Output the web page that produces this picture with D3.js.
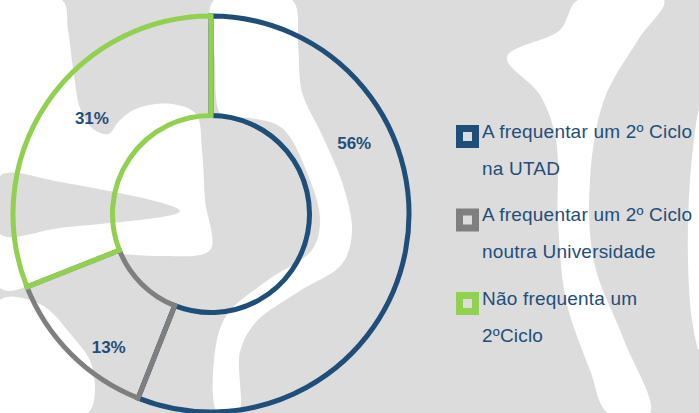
<!DOCTYPE html>
<html lang="pt">
<head>
<meta charset="UTF-8">
<title>Frequência de 2º Ciclo</title>
<script src="https://cdn.jsdelivr.net/npm/d3@7"></script>
<style>
    body { margin: 0; background: #fff; }
    svg { display: block; }
    text { font-family: "Liberation Sans", Arial, sans-serif; fill: #1f4e79; }
</style>
</head>
<body>
<svg width="699" height="413"></svg>
<script>
// data
const categories = ["A frequentar um 2º Ciclo na UTAD", "A frequentar um 2º Ciclo noutra Universidade", "Não frequenta um 2ºCiclo"];
const legendLines = [["A frequentar um 2º Ciclo", "na UTAD"], ["A frequentar um 2º Ciclo", "noutra Universidade"], ["Não frequenta um", "2ºCiclo"]];
const values = [56, 13, 31];
const colors = ["#1f4e79", "#7f7f7f", "#92d050"];

const width = 699, height = 413;
const cx = 211, cy = 214;
const rOuter = 198, rInner = 98.5;
// where each % label sits inside its slice (fraction of slice angle, radius)
const labelFrac = [0.315, 0.34, 0.542];
const labelRad = [160, 168, 153];

const svg = d3.select("svg");

// background watermark (light grey logo shapes)
const wm = svg.append("g");
wm.append("rect").attr("width", width).attr("height", height).attr("fill", "#dcdcdc");
const blob = d3.line().curve(d3.curveCatmullRomClosed.alpha(0.5));
const whites = [
    [[0,0],[62,0],[68,30],[74,75],[80,108],[92,128],[108,134],[120,120],[138,108],[172,104],[196,114],[202,150],[205,200],[210,250],[160,256],[110,255],[60,272],[0,288]],
    [[214,0],[292,0],[298,45],[302,92],[322,135],[343,185],[352,232],[342,264],[298,292],[256,322],[240,352],[238,413],[218,413],[214,360],[226,316],[268,280],[312,250],[320,220],[308,175],[282,128],[250,118],[222,116],[215,60]],
    [[578,0],[560,30],[507,57],[540,95],[556,140],[558,220],[566,300],[590,370],[608,413],[650,413],[624,340],[594,262],[590,180],[604,100],[638,40],[664,0]],
    [[699,110],[690,180],[688,260],[692,320],[699,350]],
    [[0,300],[40,304],[72,336],[92,366],[88,413],[0,413]]
];
wm.selectAll("path.w").data(whites).join("path")
    .attr("class", "w").attr("d", blob).attr("fill", "#fff");
wm.append("path")
    .attr("d", d3.line().curve(d3.curveCatmullRomClosed)([[0,176],[60,182],[180,211],[60,228],[0,234]]))
    .attr("fill", "#dcdcdc");

// donut
const pie = d3.pie().sort(null).value(d => d);
const arcs = pie(values);
const arc = d3.arc().innerRadius(rInner).outerRadius(rOuter);

const g = svg.append("g").attr("transform", `translate(${cx},${cy})`);
g.selectAll("path.slice").data(arcs).join("path")
    .attr("class", "slice")
    .attr("d", arc)
    .attr("fill", "none")
    .attr("stroke", (d, i) => colors[i])
    .attr("stroke-width", 5)
    .attr("stroke-linejoin", "miter");

g.selectAll("text.pct").data(arcs).join("text")
    .attr("class", "pct")
    .attr("transform", (d, i) => {
        const a = d.startAngle + (d.endAngle - d.startAngle) * labelFrac[i];
        return `translate(${labelRad[i] * Math.sin(a)},${-labelRad[i] * Math.cos(a)})`;
    })
    .attr("text-anchor", "middle")
    .attr("dy", "0.36em")
    .style("font-size", "17px")
    .style("font-weight", "bold")
    .text(d => d.data + "%");

// legend
const legend = svg.append("g").attr("transform", "translate(456,125)");
const item = legend.selectAll("g").data(categories).join("g")
    .attr("transform", (d, i) => `translate(0,${i * 83.5})`);
item.append("rect")
    .attr("x", 3.5).attr("y", 3.5).attr("width", 16).attr("height", 16)
    .attr("fill", "none")
    .attr("stroke", (d, i) => colors[i])
    .attr("stroke-width", 7);
item.each(function (d, i) {
    d3.select(this).selectAll("text").data(legendLines[i]).join("text")
        .attr("x", 26)
        .attr("y", (t, j) => 12.5 + j * 37)
        .style("font-size", "19px")
        .style("letter-spacing", "0.2px")
        .text(t => t);
});
</script>
</body>
</html>
